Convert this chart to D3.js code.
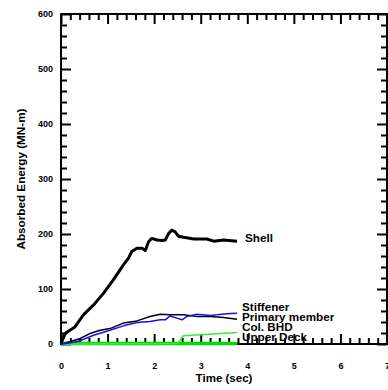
<!DOCTYPE html>
<html lang="en">
<head>
  <meta charset="UTF-8">
  <title>Absorbed Energy</title>
  <style>
    body { margin: 0; background: #fff; }
    text { font-family: "Liberation Sans", Arial, sans-serif; font-weight: bold; }
  </style>
</head>
<body>
  <svg id="svg" width="388" height="390"></svg>

  <script src="https://d3js.org/d3.v7.min.js"></script>
  <script>
    // series: [time (sec), energy (MN-m)]
    const shell = [[0,1],[0.09,19],[0.19,25],[0.3,31],[0.48,53],[0.7,71],[0.91,92],[1.12,116],[1.34,144],
      [1.45,156],[1.52,168],[1.63,174],[1.74,174],[1.81,170],[1.88,186],[1.95,192],[2.06,189],[2.17,188],
      [2.24,189],[2.31,201],[2.38,207],[2.45,204],[2.52,196],[2.63,194],[2.85,191],[3.13,191],[3.28,187],
      [3.49,189],[3.78,187]]
    const primary = [[0,0],[0.19,4],[0.41,10],[0.62,19],[0.84,25],[1.05,28],[1.34,38],[1.63,42],[1.91,50],
      [2.13,54],[2.34,53],[2.63,53],[2.92,50],[3.21,50],[3.49,48],[3.78,45]]
    const stiffener = [[0,0],[0.19,2],[0.41,6],[0.7,16],[1.05,25],[1.34,33],[1.63,39],[1.91,41],[2.13,44],
      [2.24,44],[2.34,51],[2.49,47],[2.6,44],[2.7,50],[2.92,54],[3.21,52],[3.35,53],[3.56,55],[3.78,56]]
    const colBHD = [[0,0],[2.5,1],[2.63,15],[3.78,21]]
    const upperDeck = [[0,1],[3.78,1]]

    const labels = ['Shell', 'Stiffener', 'Primary member', 'Col. BHD', 'Upper Deck']
    const labelY = [192, 68, 50, 31, 13]   // data-space height where each label sits
    const xTicks = [0, 1, 2, 3, 4, 5, 6, 7]
    const yTicks = [0, 100, 200, 300, 400, 500, 600]

    const mLeft = 61, mRight = 387, mTop = 14, mBottom = 344

    const x = d3.scaleLinear().domain([0, 7]).range([mLeft, mRight])
    const y = d3.scaleLinear().domain([0, 600]).range([mBottom, mTop])

    const svg = d3.select('#svg')

    const xMinor = d3.range(0, 7.001, 0.2).filter(v => Math.abs(v - Math.round(v)) > 1e-6)
    const yMinor = d3.range(0, 600.1, 20).filter(v => v % 100 !== 0)

    // ticks on all four sides, pointing inward
    const addAxis = (axis, tx, ty) => {
      const g = svg.append('g').attr('transform', `translate(${tx},${ty})`).call(axis)
      g.select('.domain').remove()
      g.selectAll('.tick line').attr('stroke', '#000').attr('stroke-width', 2)
      g.selectAll('.tick text')
        .attr('fill', '#000')
        .style('font-family', '"Liberation Sans", Arial, sans-serif')
        .style('font-weight', 'bold')
        .style('font-size', '9px')
      return g
    }

    addAxis(d3.axisBottom(x).tickValues(xTicks).tickFormat(d3.format('d')).tickSize(-10).tickPadding(19), 0, mBottom)
    addAxis(d3.axisBottom(x).tickValues(xMinor).tickSize(-6).tickFormat(''), 0, mBottom)
    addAxis(d3.axisTop(x).tickValues(xTicks).tickSize(-10).tickFormat(''), 0, mTop)
    addAxis(d3.axisTop(x).tickValues(xMinor).tickSize(-6).tickFormat(''), 0, mTop)

    addAxis(d3.axisLeft(y).tickValues(yTicks).tickSize(-10).tickPadding(8), mLeft, 0)
    addAxis(d3.axisLeft(y).tickValues(yMinor).tickSize(-6).tickFormat(''), mLeft, 0)
    addAxis(d3.axisRight(y).tickValues(yTicks).tickSize(-10).tickFormat(''), mRight, 0)
    addAxis(d3.axisRight(y).tickValues(yMinor).tickSize(-6).tickFormat(''), mRight, 0)

    // frame
    svg.append('rect')
      .attr('x', mLeft).attr('y', mTop)
      .attr('width', mRight - mLeft).attr('height', mBottom - mTop)
      .attr('fill', 'none').attr('stroke', '#000').attr('stroke-width', 2)

    // axis titles
    svg.append('text')
      .attr('transform', `translate(${(mLeft + mRight) / 2},382) scale(1.1,1)`)
      .attr('text-anchor', 'middle').attr('font-size', 10.5)
      .text('Time (sec)')
    svg.append('text')
      .attr('transform', `translate(25,${(mTop + mBottom) / 2}) rotate(-90) scale(1.17,1)`)
      .attr('text-anchor', 'middle').attr('font-size', 10)
      .text('Absorbed Energy (MN-m)')

    // curves
    const line = d3.line().x(d => x(d[0])).y(d => y(d[1]))
    const series = [
      { data: upperDeck, color: '#00dd00', width: 3.5 },
      { data: colBHD, color: '#33ee33', width: 1.5 },
      { data: primary, color: '#000', width: 1.5 },
      { data: stiffener, color: '#1010ff', width: 1.5 },
      { data: shell, color: '#000', width: 3 }
    ]
    svg.selectAll('.curve').data(series).enter().append('path')
      .attr('d', d => line(d.data))
      .attr('fill', 'none')
      .attr('stroke', d => d.color)
      .attr('stroke-width', d => d.width)
      .attr('stroke-linejoin', 'round')

    // end labels, slightly wide like the original
    svg.selectAll('.lab').data(labels).enter().append('text')
      .attr('transform', (d, i) => `translate(${i === 0 ? 245 : 242},${y(labelY[i]) + 4}) scale(1.17,1)`)
      .attr('font-size', 10)
      .text(d => d)
  </script>
</body>
</html>
